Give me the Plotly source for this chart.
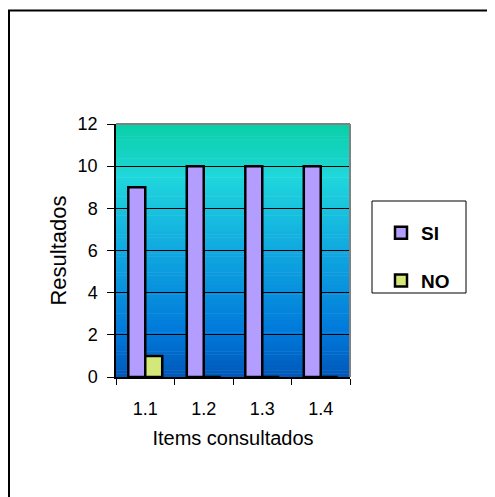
import plotly.graph_objects as go

categories = ["1.1", "1.2", "1.3", "1.4"]
si_values = [9, 10, 10, 10]
no_values = [1, 0, 0, 0]
y_ticks = [0, 2, 4, 6, 8, 10, 12]

FONT = "Liberation Sans, Arial, sans-serif"

# background gradient stops (fraction from bottom, colour)
stops = [(0.0, (0, 88, 184)), (0.17, (0, 120, 218)), (0.5, (16, 168, 224)),
         (0.8, (32, 216, 220)), (0.835, (26, 212, 204)), (1.0, (8, 208, 168))]

def interp(t):
    for (a, ca), (b, cb) in zip(stops[:-1], stops[1:]):
        if a <= t <= b:
            f = (t - a) / (b - a) if b > a else 0
            c = [round(ca[i] + (cb[i] - ca[i]) * f) for i in range(3)]
            return "rgb(%d,%d,%d)" % tuple(c)
    return "rgb(%d,%d,%d)" % stops[-1][1]

# page body has an 8px margin, so the figure is sized to fit the viewport
OFF = 8
W, H = 495 - OFF, 497 - OFF
ml, mt = 116 - OFF, 124 - OFF
mr = W - (350 - OFF)
mb = H - (377 - OFF)
pw, ph = W - ml - mr, H - mt - mb
def px(x): return (x - OFF - ml) / pw
def py(y): return (H - mb - (y - OFF)) / ph

shapes = []
N = 80
for i in range(N):
    y0 = i / N
    y1 = (i + 1) / N
    shapes.append(dict(type="rect", xref="x domain", yref="y domain",
                       x0=0, x1=1, y0=y0, y1=y1 + 0.002, layer="below",
                       line=dict(width=0), fillcolor=interp((y0 + y1) / 2)))
# gray top/right border of plot area
shapes.append(dict(type="line", xref="x domain", yref="y domain", x0=0, x1=1, y0=1, y1=1,
                   line=dict(color="#808080", width=2), layer="above"))
shapes.append(dict(type="line", xref="x domain", yref="y domain", x0=1, x1=1, y0=0, y1=1,
                   line=dict(color="#808080", width=2), layer="above"))
# legend box
shapes.append(dict(type="rect", xref="paper", yref="paper",
                   x0=px(372), x1=px(466), y0=py(293), y1=py(201),
                   line=dict(color="black", width=1)))
# outer chart border
shapes.append(dict(type="rect", xref="paper", yref="paper",
                   x0=px(9), x1=px(530), y0=py(530), y1=py(10.5),
                   line=dict(color="black", width=2)))

fig = go.Figure()
fig.add_trace(go.Bar(x=categories, y=si_values, name="SI",
                     marker=dict(color="#B39DFF", line=dict(color="black", width=2.5)),
                     legendgroup="si"))
fig.add_trace(go.Bar(x=categories, y=no_values, name="NO",
                     marker=dict(color="#D4E87A", line=dict(color="black", width=2.5)),
                     legendgroup="no"))

fig.update_layout(
    width=W, height=H,
    margin=dict(l=ml, r=mr, t=mt, b=mb, pad=0),
    paper_bgcolor="white",
    plot_bgcolor="rgba(0,0,0,0)",
    barmode="group", bargap=0.42, bargroupgap=0,
    font=dict(family=FONT, size=18, color="black"),
    shapes=shapes,
    showlegend=True,
    legend=dict(x=px(381), y=py(214), xanchor="left", yanchor="top",
                bgcolor="rgba(0,0,0,0)", borderwidth=0,
                font=dict(family=FONT, size=19, color="black", weight="bold"),
                traceorder="grouped", tracegroupgap=20),
    xaxis=dict(type="category", showgrid=False, showline=True, linecolor="black", linewidth=1.5,
               ticks="outside", ticklen=6, tickcolor="black", tickson="boundaries",
               tickfont=dict(size=18), ticklabelstandoff=15,
               title=dict(text="Items consultados", font=dict(size=20), standoff=13)),
    yaxis=dict(range=[0, 12], tickvals=y_ticks, showgrid=True, gridcolor="black", gridwidth=1,
               showline=True, linecolor="black", linewidth=1.5, zeroline=False,
               ticks="outside", ticklen=7, tickcolor="black", tickfont=dict(size=18),
               ticklabelstandoff=6,
               title=dict(text="Resultados", font=dict(size=22), standoff=5)),
)

fig.write_html("out.html")
